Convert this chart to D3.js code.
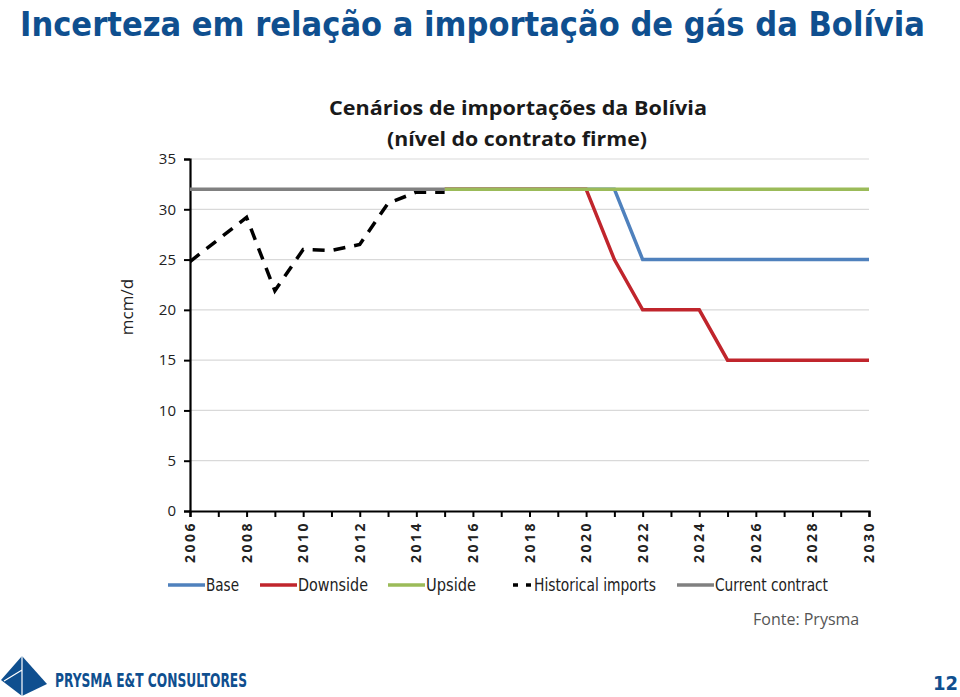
<!DOCTYPE html>
<html><head><meta charset="utf-8">
<script src="https://cdn.jsdelivr.net/npm/d3@7"></script>
<style>body{margin:0;background:#fff}svg{display:block}</style>
</head><body>
<svg id="c" width="960" height="697"></svg>
<script>
const histYears = [2006,2007,2008,2009,2010,2011,2012,2013,2014,2015];
const historical = [24.8,27.0,29.2,21.9,26.0,25.9,26.5,30.6,31.7,31.7];
const contractYears = [2006,2015];
const currentContract = [32,32];
const scenYears = [2015,2016,2017,2018,2019,2020,2021,2022,2023,2024,2025,2026,2027,2028,2029,2030];
const base =      [32,32,32,32,32,32,32,25,25,25,25,25,25,25,25,25];
const downside =  [32,32,32,32,32,32,25,20,20,20,15,15,15,15,15,15];
const upside =    [32,32,32,32,32,32,32,32,32,32,32,32,32,32,32,32];
const yTicks = [0,5,10,15,20,25,30,35];
const xLabelYears = [2006,2008,2010,2012,2014,2016,2018,2020,2022,2024,2026,2028,2030];
const legendNames = ["Base","Downside","Upside","Historical imports","Current contract"];

const svg = d3.select("#c");
const blue = "#0f4f8f";
const x = d3.scaleLinear().domain([2006,2030]).range([190,869]);
const y = d3.scaleLinear().domain([0,35]).range([511,159]);

// Title
svg.append("text").attr("x",20).attr("y",36)
  .attr("font-family","'Liberation Sans Narrow','DejaVu Sans Condensed',sans-serif")
  .attr("font-weight","bold").attr("font-size",34).attr("fill",blue)
  .attr("textLength",905).attr("lengthAdjust","spacingAndGlyphs")
  .text("Incerteza em relação a importação de gás da Bolívia");

// chart title
const ct = svg.append("g").attr("font-family","'Open Sans',sans-serif").attr("font-weight","bold")
  .attr("font-size",20).attr("fill","#1a1a1a").attr("text-anchor","middle");
ct.append("text").attr("x",518).attr("y",115).attr("textLength",378).attr("lengthAdjust","spacingAndGlyphs").text("Cenários de importações da Bolívia");
ct.append("text").attr("x",517).attr("y",146).attr("textLength",260).attr("lengthAdjust","spacingAndGlyphs").text("(nível do contrato firme)");

// gridlines
svg.append("g").selectAll("line").data(yTicks.filter(d=>d>0)).join("line")
  .attr("x1",190).attr("x2",869).attr("y1",d=>y(d)).attr("y2",d=>y(d))
  .attr("stroke","#d9d9d9").attr("stroke-width",1.2);

// y axis
const ya = svg.append("g").attr("transform","translate(190,0)")
  .call(d3.axisLeft(y).tickValues(yTicks).tickSize(6).tickPadding(8));
ya.select(".domain").attr("stroke","#000").attr("stroke-width",2.2);
ya.selectAll(".tick line").attr("stroke","#000").attr("stroke-width",2);
ya.selectAll(".tick text").attr("font-family","'Open Sans',sans-serif").attr("font-size",15).attr("fill","#222");

// x axis
const xa = svg.append("g").attr("transform","translate(0,511)")
  .call(d3.axisBottom(x).tickValues(d3.range(2006,2031)).tickSize(6).tickFormat(""));
xa.select(".domain").attr("stroke","#000").attr("stroke-width",2.2);
xa.selectAll(".tick line").attr("stroke","#000").attr("stroke-width",2);
svg.append("g").selectAll("text").data(xLabelYears).join("text")
  .attr("transform",d=>`translate(${x(d)+5},521) rotate(-90)`)
  .attr("text-anchor","end").attr("font-family","'Open Sans',sans-serif").attr("font-weight","bold")
  .attr("font-size",14).attr("letter-spacing",2.5).attr("fill","#222").text(d=>d);

// y label
svg.append("text").attr("transform","translate(133,307) rotate(-90)").attr("text-anchor","middle")
  .attr("font-family","'Open Sans',sans-serif").attr("font-size",17).attr("fill","#222").text("mcm/d");

const line = (xs) => d3.line().x((d,i)=>x(xs[i])).y(d=>y(d));
const series = [
  {name:"Base", xs:scenYears, v:base, c:"#4f81bd"},
  {name:"Downside", xs:scenYears, v:downside, c:"#c0252c"},
  {name:"Upside", xs:scenYears, v:upside, c:"#9bbb59"},
  {name:"Historical imports", xs:histYears, v:historical, c:"#000", dash:"12,9"},
  {name:"Current contract", xs:contractYears, v:currentContract, c:"#808080"}
];
series.forEach(s=>{
  svg.append("path").datum(s.v).attr("d",line(s.xs)).attr("fill","none")
    .attr("stroke",s.c).attr("stroke-width",3.5).attr("stroke-dasharray",s.dash||null);
});

// legend
const legX = [168,260,388,513,677];
const legW = [33,70,50,122,113];
const lg = svg.append("g");
series.forEach((s,i)=>{
  const g = lg.append("g").attr("transform",`translate(${legX[i]},585)`);
  if (s.dash) {
    g.append("line").attr("x1",0).attr("x2",20).attr("stroke",s.c).attr("stroke-width",3.5).attr("stroke-dasharray","5,8");
  } else {
    g.append("line").attr("x1",0).attr("x2",37).attr("stroke",s.c).attr("stroke-width",3.5);
  }
  g.append("text").attr("x",s.dash?21:38).attr("y",6)
    .attr("font-family","'Liberation Sans Narrow','DejaVu Sans Condensed',sans-serif")
    .attr("font-size",17).attr("fill","#222")
    .attr("textLength",legW[i]).attr("lengthAdjust","spacingAndGlyphs").text(legendNames[i]);
});

// source
svg.append("text").attr("x",753).attr("y",625).attr("font-family","'Open Sans',sans-serif")
  .attr("font-size",16).attr("fill","#555").text("Fonte: Prysma");

// footer logo
svg.append("path").attr("d","M22,656 L47,684 L22,696 L1,680 Z").attr("fill",blue);
svg.append("path").attr("d","M22,656 L22,696 M4,681 L22,670").attr("stroke","#fff").attr("stroke-width",1.2).attr("fill","none");
svg.append("text").attr("x",55).attr("y",687)
  .attr("font-family","'Liberation Sans Narrow','DejaVu Sans Condensed',sans-serif")
  .attr("font-weight","bold").attr("font-size",20).attr("fill",blue)
  .attr("textLength",192).attr("lengthAdjust","spacingAndGlyphs").text("PRYSMA E&T CONSULTORES");
svg.append("text").attr("x",958).attr("y",690).attr("text-anchor","end")
  .attr("font-family","'Liberation Sans Narrow','DejaVu Sans Condensed',sans-serif")
  .attr("font-weight","bold").attr("font-size",20).attr("fill",blue).text("12");
</script>
</body></html>
